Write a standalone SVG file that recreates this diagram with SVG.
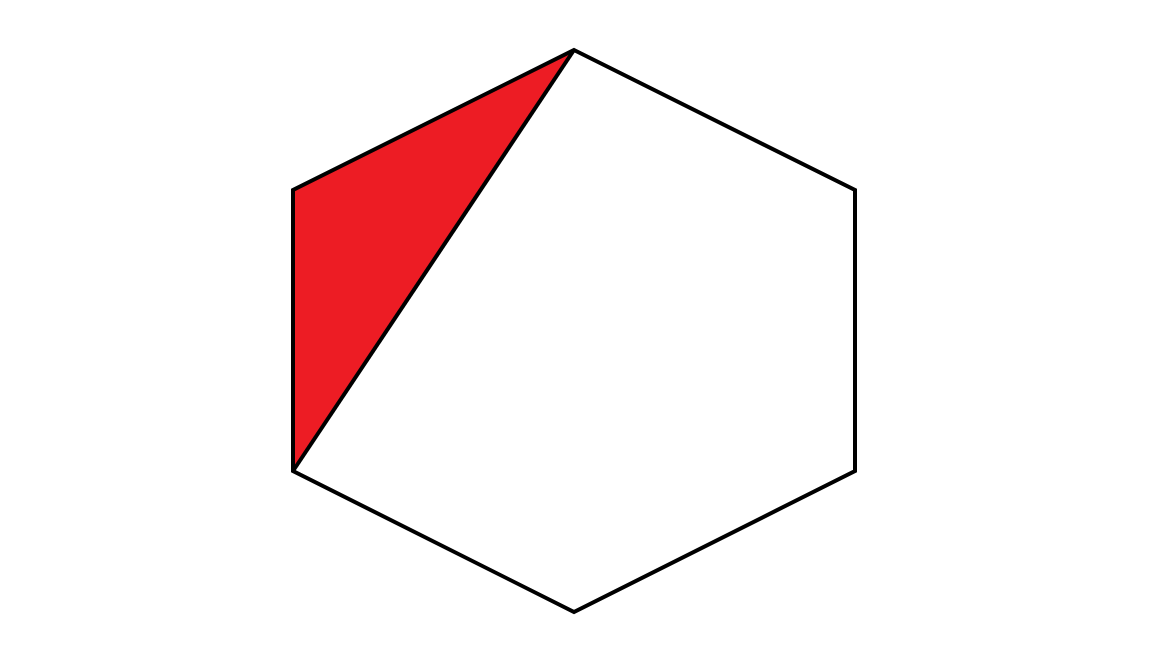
<svg xmlns="http://www.w3.org/2000/svg" width="1152" height="648" viewBox="0 0 1152 648">
<style>
.edge{fill:none;stroke:#000;stroke-width:4;stroke-linejoin:miter}
</style>
<rect width="1152" height="648" fill="#fff"/>
<polygon points="293,190 574,50 293,471" fill="#ED1C24"/>
<polygon class="edge" points="574,50 855,190 855,471 574,612 293,471 293,190"/>
<line class="edge" x1="574" y1="50" x2="293" y2="471"/>
</svg>
